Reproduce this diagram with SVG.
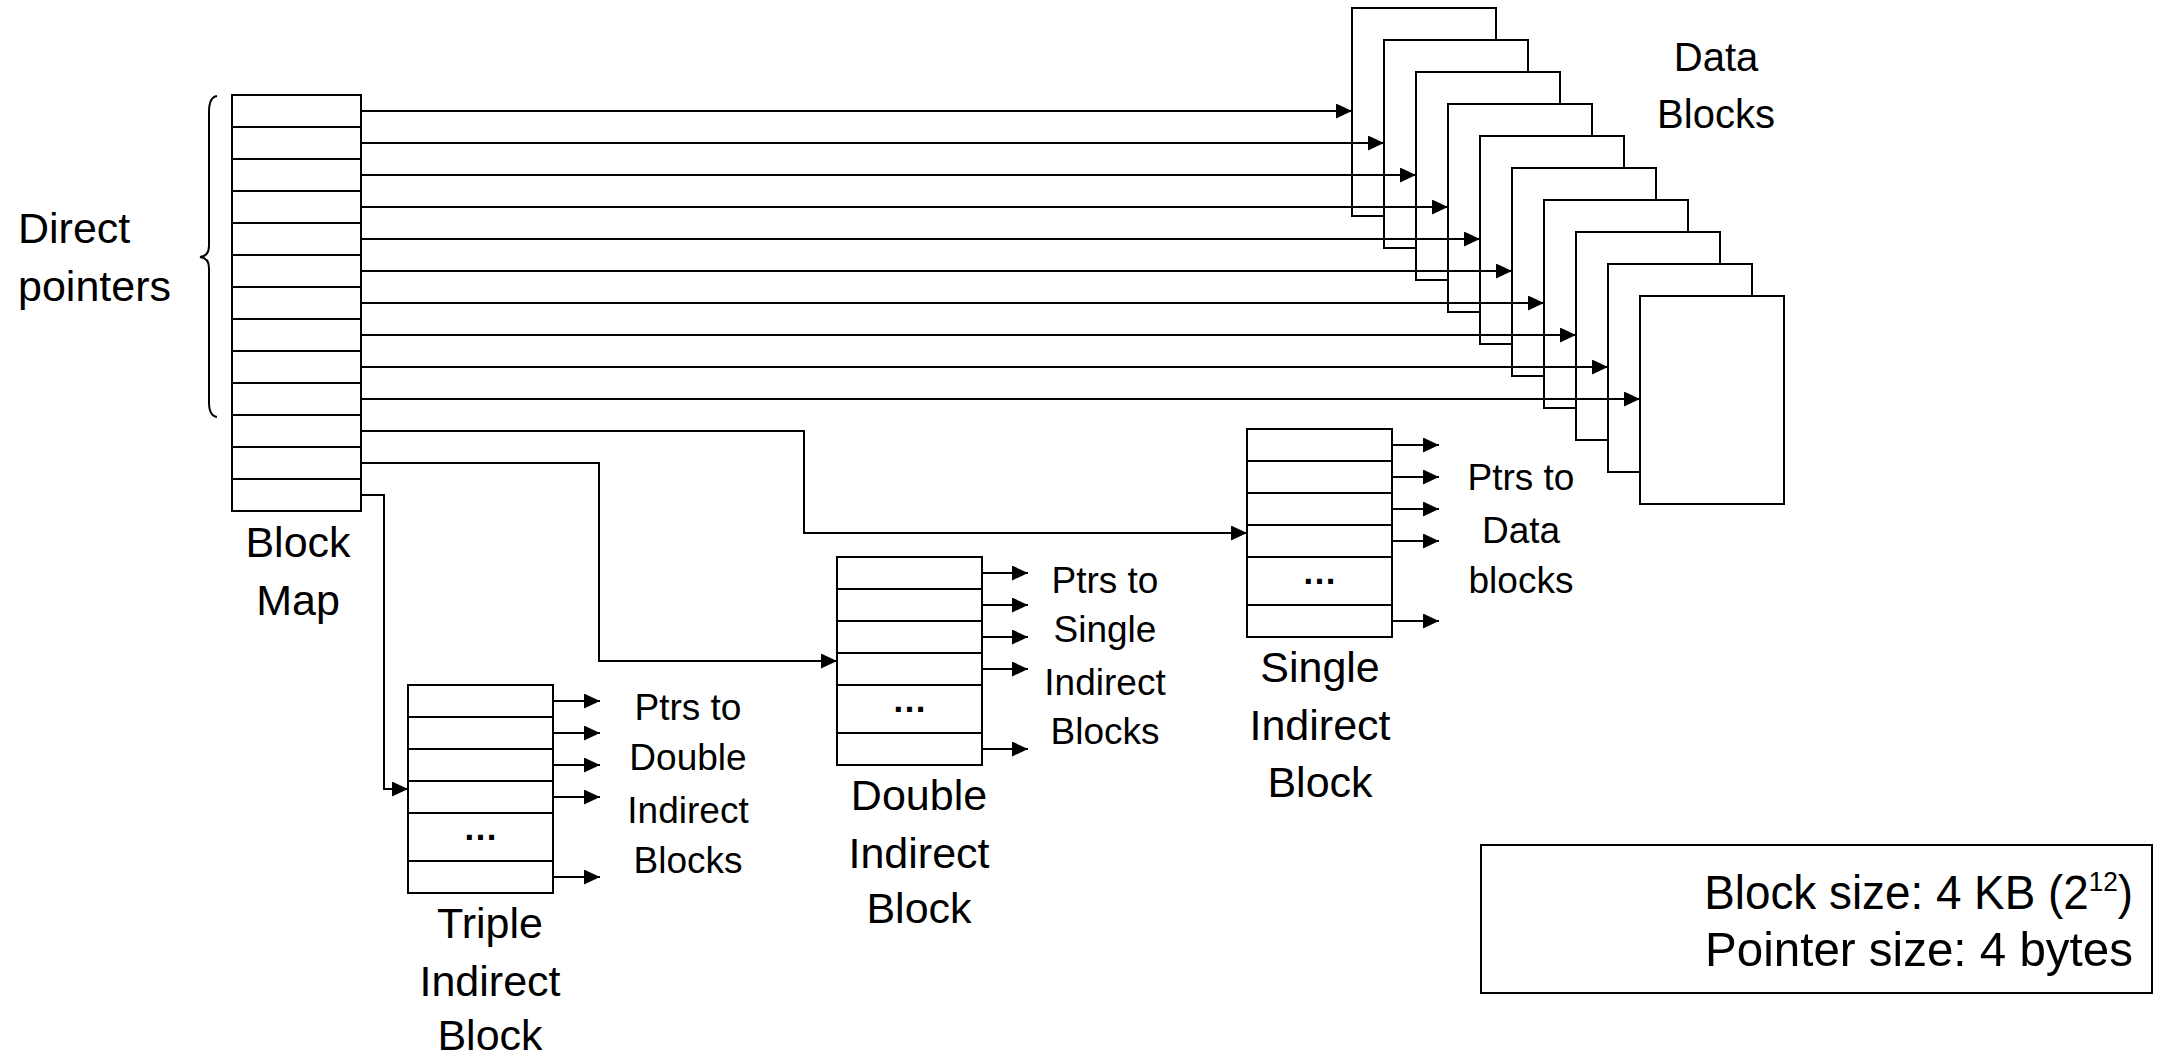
<svg xmlns="http://www.w3.org/2000/svg" width="2161" height="1056" viewBox="0 0 2161 1056">
<style>
.box{fill:#fff;stroke:#000;stroke-width:2}
.div{stroke:#000;stroke-width:2;fill:none}
.conn{fill:none;stroke:#000;stroke-width:2;marker-end:url(#arr)}
text{font-family:"Liberation Sans",Arial,sans-serif;fill:#000}
.big{font-size:43px;text-anchor:middle}
.ptr{font-size:37px;text-anchor:middle}
.dots{font-size:35px;font-weight:bold;text-anchor:middle}
.leg{font-size:49px;text-anchor:end}
</style>
<defs>
<marker id="arr" markerUnits="userSpaceOnUse" markerWidth="16" markerHeight="16" refX="16" refY="7.5" orient="auto">
<path d="M0,0 L16,7.5 L0,15 z" fill="#000"/>
</marker>
</defs>
<rect width="2161" height="1056" fill="#fff"/>

<g id="direct-pointers-label">
<text x="18" y="243" font-size="43">Direct</text>
<text x="18" y="301" font-size="43">pointers</text>
<path class="div" d="M217,96 Q209,97 209,112 L209,246 Q209,256 200,257 Q209,258 209,268 L209,402 Q209,416 217,417"/>
</g>

<g id="block-map">
<rect class="box" x="232" y="95" width="129" height="416"/>
<path class="div" d="M232,127H361M232,159H361M232,191H361M232,223H361M232,255H361M232,287H361M232,319H361M232,351H361M232,383H361M232,415H361M232,447H361M232,479H361"/>
<text class="big" x="298" y="557">Block</text>
<text class="big" x="298" y="615">Map</text>
</g>

<g id="data-blocks">
<rect id="data-block-0" class="box" x="1352" y="8" width="144" height="208"/>
<rect id="data-block-1" class="box" x="1384" y="40" width="144" height="208"/>
<rect id="data-block-2" class="box" x="1416" y="72" width="144" height="208"/>
<rect id="data-block-3" class="box" x="1448" y="104" width="144" height="208"/>
<rect id="data-block-4" class="box" x="1480" y="136" width="144" height="208"/>
<rect id="data-block-5" class="box" x="1512" y="168" width="144" height="208"/>
<rect id="data-block-6" class="box" x="1544" y="200" width="144" height="208"/>
<rect id="data-block-7" class="box" x="1576" y="232" width="144" height="208"/>
<rect id="data-block-8" class="box" x="1608" y="264" width="144" height="208"/>
<rect id="data-block-9" class="box" x="1640" y="296" width="144" height="208"/>
<text x="1716" y="71" font-size="40" text-anchor="middle">Data</text>
<text x="1716" y="128" font-size="40" text-anchor="middle">Blocks</text>
</g>

<g id="single-indirect">
<rect class="box" x="1247" y="429" width="145" height="208"/>
<path class="div" d="M1247,461H1392M1247,493H1392M1247,525H1392M1247,557H1392M1247,605H1392"/>
<text class="dots" x="1319.5" y="584">…</text>
<text class="big" x="1320" y="682">Single</text>
<text class="big" x="1320" y="740">Indirect</text>
<text class="big" x="1320" y="797">Block</text>
<text class="ptr" x="1521" y="490">Ptrs to</text>
<text class="ptr" x="1521" y="543">Data</text>
<text class="ptr" x="1521" y="593">blocks</text>
</g>

<g id="double-indirect">
<rect class="box" x="837" y="557" width="145" height="208"/>
<path class="div" d="M837,589H982M837,621H982M837,653H982M837,685H982M837,733H982"/>
<text class="dots" x="909.5" y="712">…</text>
<text class="big" x="919" y="810">Double</text>
<text class="big" x="919" y="868">Indirect</text>
<text class="big" x="919" y="923">Block</text>
<text class="ptr" x="1105" y="593">Ptrs to</text>
<text class="ptr" x="1105" y="642">Single</text>
<text class="ptr" x="1105" y="695">Indirect</text>
<text class="ptr" x="1105" y="744">Blocks</text>
</g>

<g id="triple-indirect">
<rect class="box" x="408" y="685" width="145" height="208"/>
<path class="div" d="M408,717H553M408,749H553M408,781H553M408,813H553M408,861H553"/>
<text class="dots" x="480.5" y="840">…</text>
<text class="big" x="490" y="938">Triple</text>
<text class="big" x="490" y="996">Indirect</text>
<text class="big" x="490" y="1050">Block</text>
<text class="ptr" x="688" y="720">Ptrs to</text>
<text class="ptr" x="688" y="770">Double</text>
<text class="ptr" x="688" y="823">Indirect</text>
<text class="ptr" x="688" y="873">Blocks</text>
</g>

<g id="legend">
<rect class="box" x="1481" y="845" width="671" height="148"/>
<text class="leg" transform="translate(2133,909) scale(0.935,1)">Block size: 4 KB (2<tspan dy="-18" font-size="28">12</tspan><tspan dy="18">)</tspan></text>
<text class="leg" transform="translate(2133,966) scale(0.97,1)">Pointer size: 4 bytes</text>
</g>

<g id="connectors">
<path class="conn" d="M361,111H1352"/>
<path class="conn" d="M361,143H1384"/>
<path class="conn" d="M361,175H1416"/>
<path class="conn" d="M361,207H1448"/>
<path class="conn" d="M361,239H1480"/>
<path class="conn" d="M361,271H1512"/>
<path class="conn" d="M361,303H1544"/>
<path class="conn" d="M361,335H1576"/>
<path class="conn" d="M361,367H1608"/>
<path class="conn" d="M361,399H1640"/>
<path class="conn" d="M361,431H804V533H1247"/>
<path class="conn" d="M361,463H599V661H837"/>
<path class="conn" d="M361,495H384V789H408"/>
<path class="conn" d="M1392,445H1439"/>
<path class="conn" d="M1392,477H1439"/>
<path class="conn" d="M1392,509H1439"/>
<path class="conn" d="M1392,541H1439"/>
<path class="conn" d="M1392,621H1439"/>
<path class="conn" d="M982,573H1028"/>
<path class="conn" d="M982,605H1028"/>
<path class="conn" d="M982,637H1028"/>
<path class="conn" d="M982,669H1028"/>
<path class="conn" d="M982,749H1028"/>
<path class="conn" d="M553,701H600"/>
<path class="conn" d="M553,733H600"/>
<path class="conn" d="M553,765H600"/>
<path class="conn" d="M553,797H600"/>
<path class="conn" d="M553,877H600"/>
</g>
</svg>
